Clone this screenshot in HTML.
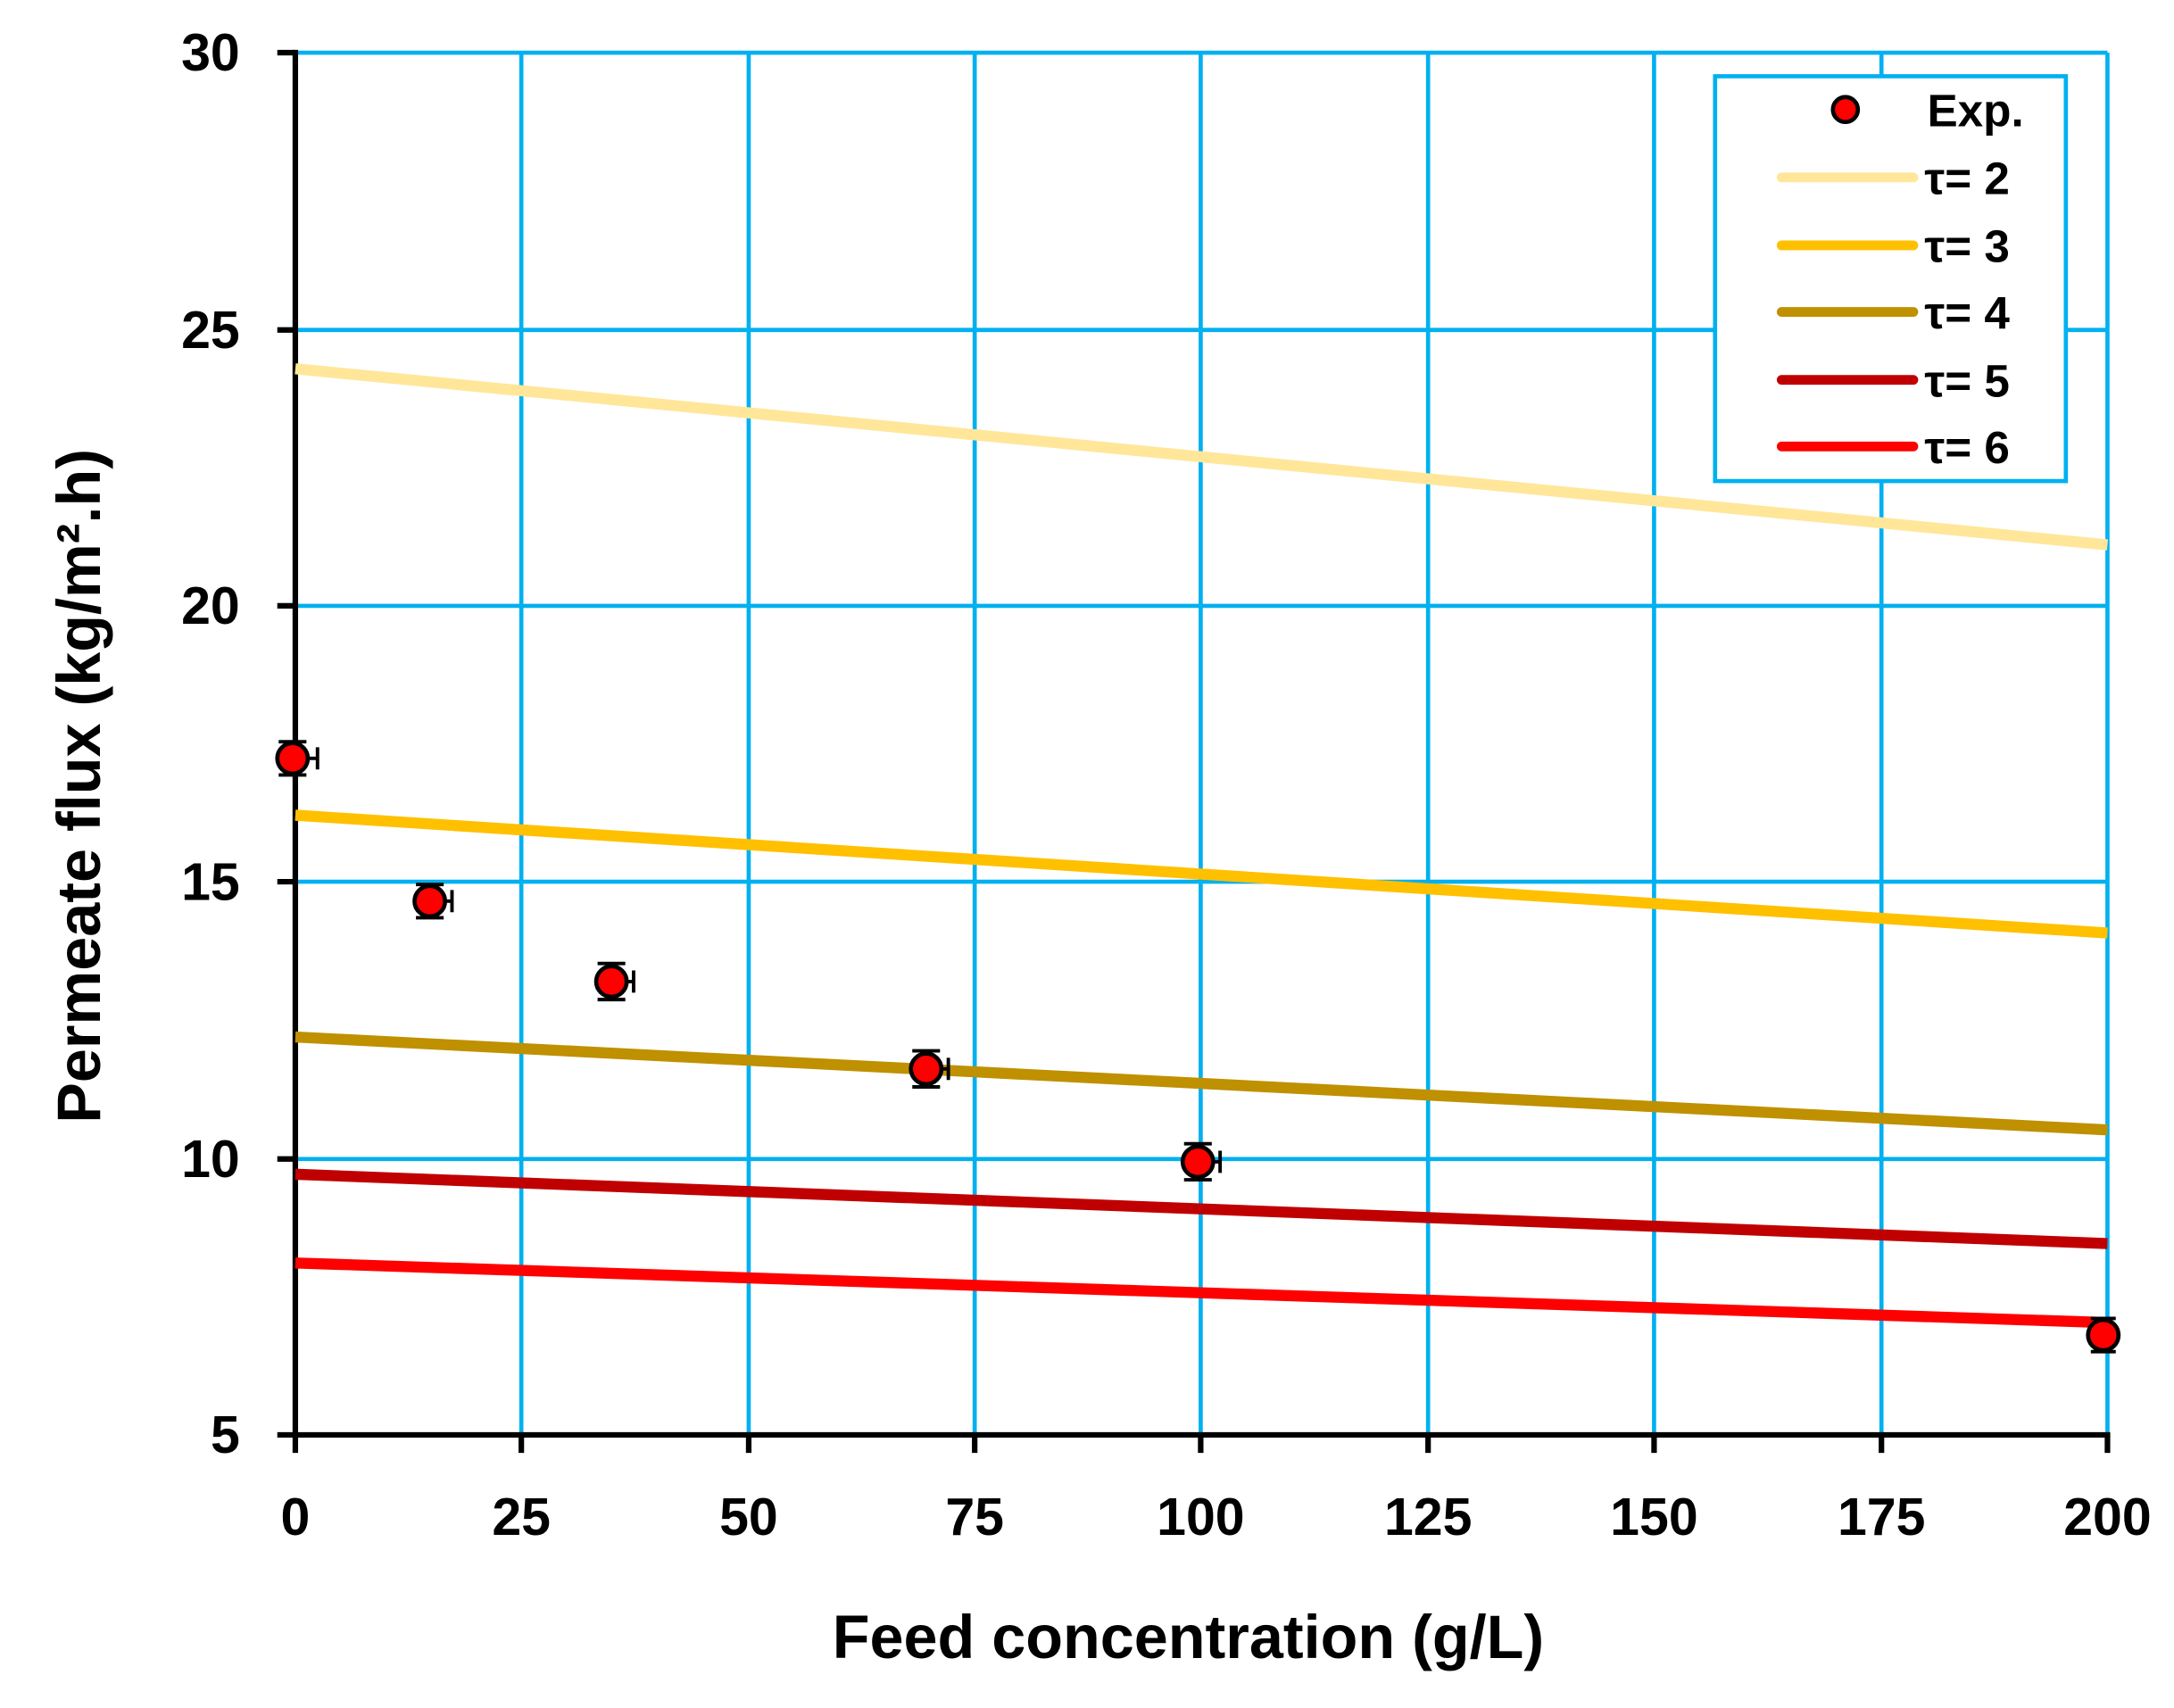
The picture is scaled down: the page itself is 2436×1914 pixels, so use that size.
<!DOCTYPE html>
<html><head><meta charset="utf-8"><style>
html,body{margin:0;padding:0;background:#fff;}
svg{display:block;}
text{font-family:"Liberation Sans",sans-serif;font-weight:bold;fill:#000;}
</style></head><body>
<svg width="2436" height="1914" viewBox="0 0 1568 1232" preserveAspectRatio="none" xmlns="http://www.w3.org/2000/svg">
<g stroke="#00B0F0" stroke-width="3">
<line x1="213" y1="38" x2="1520" y2="38"/>
<line x1="213" y1="238" x2="1520" y2="238"/>
<line x1="213" y1="437" x2="1520" y2="437"/>
<line x1="213" y1="636" x2="1520" y2="636"/>
<line x1="213" y1="836" x2="1520" y2="836"/>
<line x1="376" y1="38" x2="376" y2="1035"/>
<line x1="540" y1="38" x2="540" y2="1035"/>
<line x1="703" y1="38" x2="703" y2="1035"/>
<line x1="866" y1="38" x2="866" y2="1035"/>
<line x1="1030" y1="38" x2="1030" y2="1035"/>
<line x1="1193" y1="38" x2="1193" y2="1035"/>
<line x1="1357" y1="38" x2="1357" y2="1035"/>
<line x1="1520" y1="38" x2="1520" y2="1035"/>
</g>
<g stroke="#000" stroke-width="4">
<line x1="213" y1="36" x2="213" y2="1037"/>
<line x1="211" y1="1035" x2="1522" y2="1035"/>
<line x1="200" y1="38" x2="213" y2="38"/>
<line x1="200" y1="238" x2="213" y2="238"/>
<line x1="200" y1="437" x2="213" y2="437"/>
<line x1="200" y1="636" x2="213" y2="636"/>
<line x1="200" y1="836" x2="213" y2="836"/>
<line x1="200" y1="1035" x2="213" y2="1035"/>
<line x1="213" y1="1035" x2="213" y2="1048"/>
<line x1="376" y1="1035" x2="376" y2="1048"/>
<line x1="540" y1="1035" x2="540" y2="1048"/>
<line x1="703" y1="1035" x2="703" y2="1048"/>
<line x1="866" y1="1035" x2="866" y2="1048"/>
<line x1="1030" y1="1035" x2="1030" y2="1048"/>
<line x1="1193" y1="1035" x2="1193" y2="1048"/>
<line x1="1357" y1="1035" x2="1357" y2="1048"/>
<line x1="1520" y1="1035" x2="1520" y2="1048"/>
</g>
<g font-size="38" text-anchor="end">
<text x="173" y="51">30</text><text x="173" y="251">25</text><text x="173" y="450">20</text>
<text x="173" y="649">15</text><text x="173" y="849">10</text><text x="173" y="1048">5</text>
</g>
<g font-size="38" text-anchor="middle">
<text x="213" y="1107">0</text><text x="376" y="1107">25</text><text x="540" y="1107">50</text>
<text x="703" y="1107">75</text><text x="866" y="1107">100</text><text x="1030" y="1107">125</text>
<text x="1193" y="1107">150</text><text x="1357" y="1107">175</text><text x="1520" y="1107">200</text>
</g>
<text x="857" y="1196" font-size="44" text-anchor="middle">Feed concentration (g/L)</text>
<text transform="translate(72,567) rotate(-90)" font-size="44" text-anchor="middle">Permeate flux (kg/m².h)</text>
<g stroke-width="8" fill="none">
<line x1="213" y1="266" x2="1520" y2="393" stroke="#FFE699"/>
<line x1="213" y1="588" x2="1520" y2="673" stroke="#FFC000"/>
<line x1="213" y1="748" x2="1520" y2="815" stroke="#BF9000"/>
<line x1="213" y1="847" x2="1520" y2="897" stroke="#C00000"/>
<line x1="213" y1="911" x2="1520" y2="954" stroke="#FF0000"/>
</g>
<g stroke="#000" stroke-width="2.5" fill="none">
<path d="M201 547H229M229 539V555M211 535V559M201 535H221M201 559H221"/>
<path d="M298 650H326M326 642V658M310 638V662M300 638H320M300 662H320"/>
<path d="M429 708H457M457 700V716M441 695V721M431 695H451M431 721H451"/>
<path d="M656 771H684M684 763V779M668 758V784M658 758H678M658 784H678"/>
<path d="M852 838H880M880 830V846M864 825V851M854 825H874M854 851H874"/>
<path d="M1509 963H1527M1517 951V975M1508 951H1526M1508 975H1526"/>
</g>
<g fill="#FF0000" stroke="#000" stroke-width="3">
<circle cx="211" cy="547" r="11"/><circle cx="310" cy="650" r="11"/><circle cx="441" cy="708" r="11"/>
<circle cx="668" cy="771" r="11"/><circle cx="864" cy="838" r="11"/><circle cx="1517" cy="963" r="11"/>
</g>
<rect x="1237" y="55" width="253" height="292" fill="#fff" stroke="#00B0F0" stroke-width="3"/>
<circle cx="1331" cy="79" r="9" fill="#FF0000" stroke="#000" stroke-width="3"/>
<g stroke-width="7" stroke-linecap="round">
<line x1="1285" y1="128" x2="1380" y2="128" stroke="#FFE699"/>
<line x1="1285" y1="177" x2="1380" y2="177" stroke="#FFC000"/>
<line x1="1285" y1="225" x2="1380" y2="225" stroke="#BF9000"/>
<line x1="1285" y1="274" x2="1380" y2="274" stroke="#C00000"/>
<line x1="1285" y1="322" x2="1380" y2="322" stroke="#FF0000"/>
</g>
<g font-size="33">
<text x="1390" y="91">Exp.</text>
<text x="1388" y="140">τ= 2</text><text x="1388" y="189">τ= 3</text><text x="1388" y="237">τ= 4</text>
<text x="1388" y="286">τ= 5</text><text x="1388" y="334">τ= 6</text>
</g>
</svg>
</body></html>
